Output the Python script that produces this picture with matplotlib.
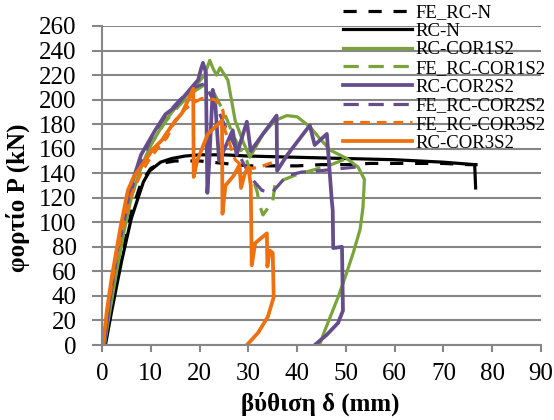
import matplotlib
matplotlib.use('Agg')
import matplotlib.pyplot as plt

# deflection (mm) and load (kN)
fe_rcn_x = [0.4, 2, 4, 6, 8, 10, 12, 15, 20, 25, 30, 35, 40, 45, 50, 55, 60, 65, 70, 75, 77]
fe_rcn_y = [0, 32, 72, 108, 132, 144, 148, 150, 150, 148, 146, 146, 146, 147, 147, 148, 148, 148, 148, 147, 147]

rcn_x = [0.7, 2, 4, 6, 7.4, 8.5, 9.8, 12, 14.3, 17, 20, 25, 30, 40, 50, 60, 70, 76.4, 76.6]
rcn_y = [0, 28, 68, 103, 120, 133, 142, 149, 152, 154, 155, 155, 154, 153, 152, 151, 149, 147, 128]

cor1_x = [0.5, 1.5, 3, 4.5, 6, 8, 10, 13, 16, 19, 21, 22.1, 22.8, 23.5, 24.2, 25.8, 27.3, 29, 30.3,
          33, 35.5, 37.9, 40, 42.6, 44.5, 46.7, 50.2, 52.5, 53.8, 53.5, 52.9, 51.5, 50, 48.5, 47, 45.5, 44.6]
cor1_y = [0, 25, 60, 92, 120, 145, 163, 183, 198, 210, 220, 232, 225, 220, 226, 216, 183, 165, 153,
          172, 183, 187, 186, 178, 169, 159, 152, 145, 135, 112, 94, 75, 57, 40, 25, 10, 0]

fe_cor1_x = [0.4, 1.5, 3, 5, 7, 10, 13, 16, 19, 21, 23, 25, 27, 29.7, 31.8, 32.3, 33, 35, 35.5,
             40, 43.2, 47, 50.8]
fe_cor1_y = [0, 30, 68, 105, 135, 163, 182, 196, 207, 212, 205, 190, 170, 150, 125, 114, 106, 117, 132,
             139, 142.5, 147, 153]

cor2_x = [0.4, 1.5, 3, 4.5, 6, 8, 10.9, 13, 15, 18.4, 19.7, 20.3, 20.7, 21.3, 21.6, 22.0, 22.7, 23.2,
          24.0, 26.8, 27.6, 29.7, 30.5, 33, 35.8, 35.9, 38, 42.6, 43.6, 46.1, 47.1, 47.3, 47.4, 49.2,
          49.4, 48.4, 46, 43.6]
cor2_y = [0, 35, 75, 105, 130, 155, 175, 188, 194, 210, 216, 225, 230, 222, 124, 150, 208, 198,
          150, 175, 155, 182, 158, 172, 187, 142, 155, 179, 163, 172, 118, 110, 79, 80,
          28, 18, 8, 0]

fe_cor2_x = [0.3, 1.5, 3, 5, 7, 10, 13, 16, 19, 21, 23, 26, 29, 31, 32.8, 34.8, 37.9, 41, 44.7, 49.4, 52]
fe_cor2_y = [0, 35, 72, 110, 140, 168, 187, 200, 210, 213, 198, 172, 148, 134, 126, 124, 138, 141, 142, 144, 145]

fe_cor3_x = [0.3, 1, 2, 3, 4, 5, 6, 8, 9.5, 11.5, 13.3, 15, 17, 18.5, 20.5, 23.2, 24.8, 25.2, 27.3,
             29, 31, 33, 36]
fe_cor3_y = [0, 25, 50, 72, 92, 108, 122, 140, 150, 161, 169, 183, 192, 197, 201, 200, 191, 175, 151,
             145, 144, 146, 150]

cor3_x = [0.2, 1, 2, 3, 3.7, 5.3, 6.5, 8.8, 10.5, 12.3, 14.5, 16.4, 17.6, 18.7, 18.8, 19.5, 21.7,
          24.6, 24.7, 25.3, 27, 28.2, 28.5, 29.3, 30, 30.5, 30.7, 31.4, 33.8, 33.9, 34.4, 35, 35.2,
          34, 32, 29.7]
cor3_y = [0, 28, 55, 78, 94, 126, 137, 150, 160, 167, 180, 189, 199, 209, 137, 150, 172,
          183, 107, 130, 138, 147, 128, 140, 145, 130, 65, 83, 91, 64, 77, 75, 39,
          23, 10, 0]

plt.rcParams['font.family'] = ['Liberation Serif', 'DejaVu Serif']
plt.rcParams['lines.scale_dashes'] = False

green = '#7aa33c'
purple = '#654d8c'
orange = '#ee7010'
grey = '#868686'

fig = plt.figure(figsize=(5.54, 4.2), dpi=100)
ax = fig.add_axes([102 / 554, 1 - 345 / 420, 439 / 554, 319 / 420])

lw = 2.3
ax.plot(fe_rcn_x, fe_rcn_y, color='black', lw=lw, dashes=(9.5, 8.5), label='FE_RC-N')
ax.plot(rcn_x, rcn_y, color='black', lw=lw, label='RC-N')
ax.plot(cor1_x, cor1_y, color=green, lw=lw, label='RC-COR1S2')
ax.plot(fe_cor1_x, fe_cor1_y, color=green, lw=lw, dashes=(11, 7), label='FE_RC-COR1S2')
ax.plot(cor2_x, cor2_y, color=purple, lw=lw + 0.4, label='RC-COR2S2')
ax.plot(fe_cor2_x, fe_cor2_y, color=purple, lw=lw, dashes=(11, 7), label='FE_RC-COR2S2')
ax.plot(fe_cor3_x, fe_cor3_y, color=orange, lw=lw, dashes=(7, 5), label='FE_RC-COR3S2')
ax.plot(cor3_x, cor3_y, color=orange, lw=lw + 0.4, label='RC-COR3S2')

ax.set_xlim(0, 90)
ax.set_ylim(0, 260)
ax.set_xticks(range(0, 91, 10))
ax.set_yticks(range(0, 261, 20))
ax.yaxis.grid(True, color=grey, lw=1.5)
ax.set_axisbelow(True)

for s in ['top', 'right']:
    ax.spines[s].set_visible(False)
for s in ['left', 'bottom']:
    ax.spines[s].set_color(grey)
    ax.spines[s].set_linewidth(1.5)

ax.tick_params(axis='y', length=7.2, width=1.5, color=grey, pad=11, labelsize=18)
ax.tick_params(axis='x', length=5, width=1.5, color=grey, pad=8, labelsize=18)

ax.set_xlabel('βύθιση δ (mm)', fontsize=18, fontweight='bold')
ax.set_ylabel('φορτίο P (kN)', fontsize=18, fontweight='bold')
ax.xaxis.set_label_coords(0.497, -0.145)
ax.yaxis.set_label_coords(-0.165, 0.462)

fig.legend(loc='upper left', bbox_to_anchor=(343 / 554, 1 - 4 / 420), frameon=False,
           fontsize=13.5, handlelength=3.7, handletextpad=0.15, labelspacing=0.08,
           borderpad=0, borderaxespad=0)

fig.savefig('out.png', dpi=100)
